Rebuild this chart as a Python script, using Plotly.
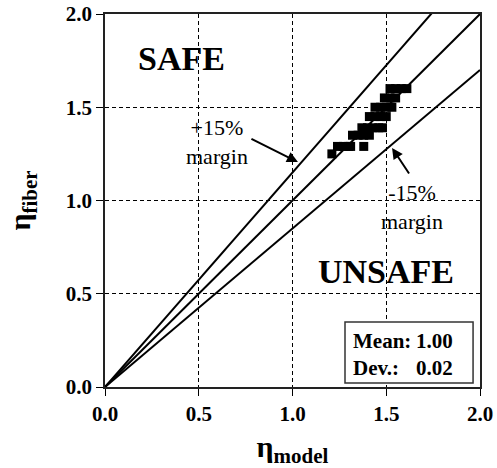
import plotly.graph_objects as go

# Measured vs. predicted efficiency factors
eta_model = [1.21,
             1.24, 1.27, 1.30, 1.31, 1.38,
             1.32, 1.35, 1.38, 1.41,
             1.37, 1.40, 1.43, 1.46, 1.48,
             1.41, 1.44, 1.47, 1.50,
             1.44, 1.47, 1.50, 1.53,
             1.49, 1.52, 1.55,
             1.52, 1.55, 1.58, 1.61]
eta_fiber = [1.25,
             1.29, 1.29, 1.29, 1.29, 1.29,
             1.35, 1.35, 1.35, 1.35,
             1.39, 1.39, 1.39, 1.39, 1.39,
             1.45, 1.45, 1.45, 1.45,
             1.50, 1.50, 1.50, 1.50,
             1.55, 1.55, 1.55,
             1.60, 1.60, 1.60, 1.60]

# Reference lines: eta_fiber = slope * eta_model
line_slopes = [1.15, 1.00, 0.85]
line_x = [0.0, 2.0]

tick_vals = [0.0, 0.5, 1.0, 1.5, 2.0]
tick_text = ["0.0", "0.5", "1.0", "1.5", "2.0"]

mean_ratio = 1.00
dev_ratio = 0.02

SERIF = "Liberation Serif, Times New Roman, serif"
BLACK = "#000000"

fig = go.Figure()

for s in line_slopes:
    fig.add_trace(go.Scatter(
        x=line_x, y=[s * v for v in line_x], mode="lines",
        line=dict(color=BLACK, width=2), hoverinfo="skip", showlegend=False))

fig.add_trace(go.Scatter(
    x=eta_model, y=eta_fiber, mode="markers",
    marker=dict(symbol="square", size=9, color=BLACK, line=dict(width=0)),
    showlegend=False))

axis_common = dict(
    range=[0, 2], tickvals=tick_vals, ticktext=tick_text,
    automargin=False,
    showline=True, linecolor="#222222", linewidth=1.5, mirror=True,
    ticks="outside", ticklen=7, tickwidth=1, tickcolor=BLACK,
    showgrid=True, gridcolor=BLACK, gridwidth=1, griddash="4px,3px",
    zeroline=False,
    tickfont=dict(family=SERIF, size=21, color=BLACK, weight="bold"),
)

fig.update_xaxes(
    **axis_common,
    title=dict(text="η<sub>model</sub>", standoff=12,
               font=dict(family=SERIF, size=30, color=BLACK, weight="bold")))
fig.update_yaxes(
    **axis_common,
    title=dict(text="η<sub>fiber</sub>", standoff=26,
               font=dict(family=SERIF, size=30, color=BLACK, weight="bold")))

annos = []
# Region labels
annos.append(dict(x=0.41, y=1.764, text="SAFE", showarrow=False,
                  font=dict(family=SERIF, size=34, color=BLACK, weight="bold")))
annos.append(dict(x=1.50, y=0.617, text="UNSAFE", showarrow=False,
                  font=dict(family=SERIF, size=34, color=BLACK, weight="bold")))
# Margin labels
annos.append(dict(x=0.597, y=1.314, text="+15%<br>margin", showarrow=False,
                  font=dict(family=SERIF, size=22, color=BLACK)))
annos.append(dict(x=1.637, y=0.965, text="-15%<br>margin", showarrow=False,
                  font=dict(family=SERIF, size=22, color=BLACK)))
# Arrows pointing to the margin lines
annos.append(dict(x=1.029, y=1.206, ax=0.773, ay=1.335, axref="x", ayref="y",
                  text="", showarrow=True, arrowhead=2, arrowsize=1.1,
                  arrowwidth=2, arrowcolor=BLACK))
annos.append(dict(x=1.531, y=1.282, ax=1.627, ay=1.137, axref="x", ayref="y",
                  text="", showarrow=True, arrowhead=2, arrowsize=1.1,
                  arrowwidth=2, arrowcolor=BLACK))
# Statistics box text
stat_font = dict(family=SERIF, size=21, color=BLACK, weight="bold")
annos.append(dict(x=1.31, y=0.247, text="Mean:", showarrow=False,
                  xanchor="left", font=stat_font))
annos.append(dict(x=1.865, y=0.247, text=f"{mean_ratio:.2f}", showarrow=False,
                  xanchor="right", font=stat_font))
annos.append(dict(x=1.31, y=0.102, text="Dev.:", showarrow=False,
                  xanchor="left", font=stat_font))
annos.append(dict(x=1.865, y=0.102, text=f"{dev_ratio:.2f}", showarrow=False,
                  xanchor="right", font=stat_font))

fig.update_layout(
    width=497, height=468,
    margin=dict(l=105, r=17, t=14, b=81),
    paper_bgcolor="white", plot_bgcolor="white",
    annotations=annos,
    shapes=[dict(type="rect", xref="x", yref="y", x0=1.28, x1=1.963,
                 y0=0.021, y1=0.349, fillcolor="white",
                 line=dict(color="#333333", width=1.5), layer="above")],
)

fig.write_html("out.html")
